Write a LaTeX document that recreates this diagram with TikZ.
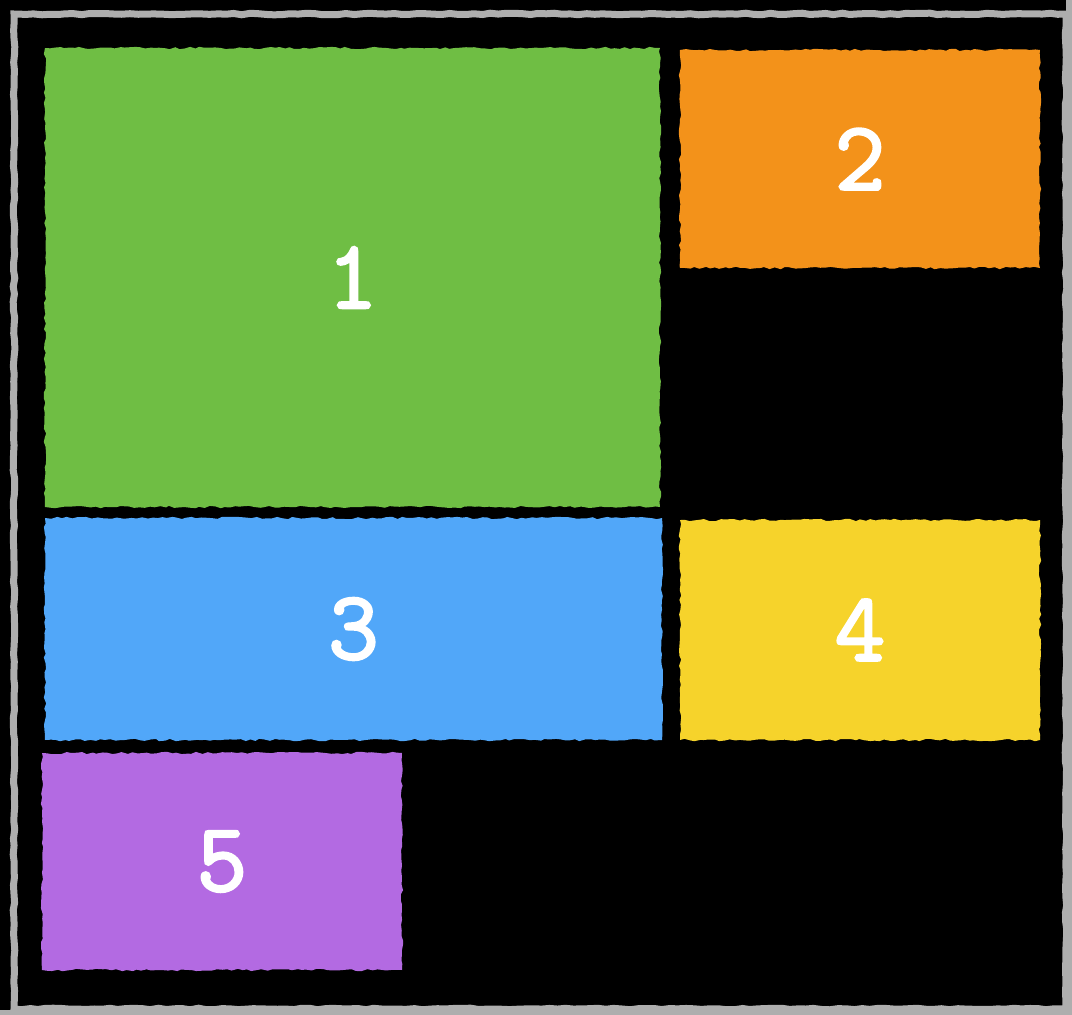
\documentclass[tikz,border=0pt]{standalone}
\usepackage{fontspec}
\newfontfamily\tilefont[FakeBold=2.5]{Latin Modern Mono}
\usetikzlibrary{decorations.pathmorphing}
\definecolor{cgreen}{HTML}{6FBE44}
\definecolor{corange}{HTML}{F3921A}
\definecolor{cblue}{HTML}{51A7F9}
\definecolor{cyellow}{HTML}{F6D32B}
\definecolor{cpurple}{HTML}{B36AE2}
\definecolor{cframe}{HTML}{AEAEAE}
\begin{document}
\begin{tikzpicture}[x=1pt,y=-1pt,
  tile/.style={inner sep=0pt, outer sep=0pt, text=white,
    font=\tilefont\fontsize{98}{98}\selectfont,
    decorate, decoration={random steps, segment length=5pt, amplitude=1.2pt}},
  framestroke/.style={draw=cframe, line width=7pt,
    decorate, decoration={random steps, segment length=8pt, amplitude=0.8pt}}]
\pgfmathsetseed{7}
\useasboundingbox (0,0) rectangle (1072,1015);
\fill[black] (0,0) rectangle (1072,1015);
\fill[cframe] (1066,0) rectangle (1072,1015);
\fill[cframe] (0,1010) rectangle (1072,1015);
\draw[framestroke] (14,14) rectangle (1066,1009);
\node[tile, fill=cgreen, minimum width=615pt, minimum height=459pt] (t1) at (352.5,277.5) {1};
\node[tile, fill=corange, minimum width=360pt, minimum height=218pt] (t2) at (860,159) {2};
\node[tile, fill=cblue, minimum width=617pt, minimum height=222pt] (t3) at (353.5,629) {3};
\node[tile, fill=cyellow, minimum width=360pt, minimum height=220pt] (t4) at (860,630) {4};
\node[tile, fill=cpurple, minimum width=360pt, minimum height=217pt] (t5) at (222,861.5) {5};
\end{tikzpicture}
\end{document}
